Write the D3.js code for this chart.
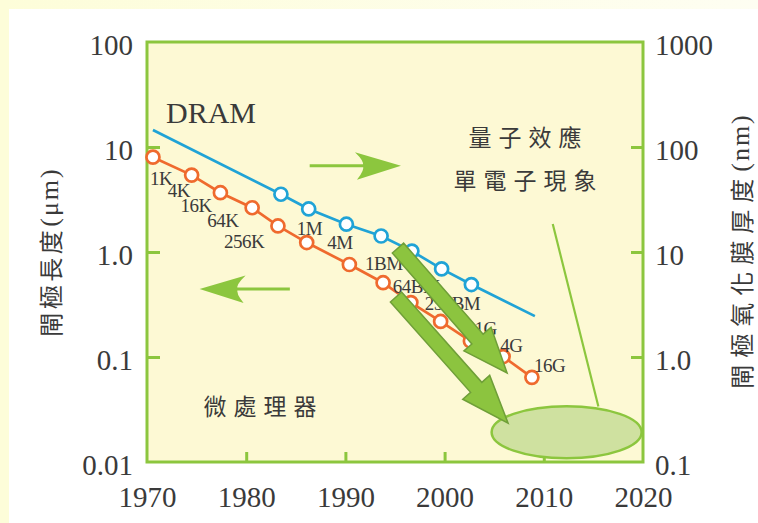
<!DOCTYPE html>
<html>
<head>
<meta charset="utf-8">
<script src="https://cdn.jsdelivr.net/npm/d3@7"></script>
<style>
  html, body { margin: 0; padding: 0; background: #ffffff; }
  svg { display: block; }
</style>
</head>
<body>
<svg id="chart" width="758" height="523"></svg>
<script>
// Gate length of successive DRAM generations (left axis, µm)
const dramYears  = [1970.6, 1974.5, 1977.4, 1980.6, 1983.2, 1986.1, 1990.4, 1993.8, 1996.6, 1999.6, 2002.6, 2005.9, 2008.8];
const dramLength = [8.0, 5.4, 3.67, 2.64, 1.77, 1.23, 0.76, 0.51, 0.33, 0.218, 0.142, 0.101, 0.064];
const dramLabels = ["1K", "4K", "16K", "64K", "256K", "1M", "4M", "1BM", "64BM", "256BM", "1G", "4G", "16G"];

// Gate oxide thickness trend (right axis, nm); only measured points get a marker
const oxideYears  = [1970.6, 1983.5, 1986.3, 1990.1, 1993.6, 1996.7, 1999.7, 2002.7, 2009.1];
const oxideNm     = [145, 35.5, 25.7, 18.4, 14.2, 10.2, 6.9, 4.9, 2.45];
const oxideMarked = [false, true, true, true, true, true, true, true, false];

// Axis ticks
const yearTicks  = [1970, 1980, 1990, 2000, 2010, 2020];
const leftTicks  = [100, 10, 1, 0.1, 0.01];
const leftText   = ["100", "10", "1.0", "0.1", "0.01"];
const rightTicks = [1000, 100, 10, 1, 0.1];
const rightText  = ["1000", "100", "10", "1.0", "0.1"];

// Layout
const plot = { left: 147, right: 643, top: 42, bottom: 462 };
const GREEN = "#8cc63e", ORANGE = "#ef6a2e", BLUE = "#20a3d6", INK = "#3a3a3a";
const SERIF = "'Liberation Serif', 'Times New Roman', serif";
const CJK = "'Noto Sans CJK TC', 'Noto Sans CJK SC', sans-serif";

// Label placement for each DRAM point: [dx of text start, dy of baseline]
const labelOffsets = [[-3, 28], [-24, 22], [-40, 19], [-45, 19], [-54, 22], [-10, -8], [-22, -16],
                      [-18, -13], [-18, -10], [-16, -11], [4, -6], [-3, -5], [2, -5]];

const svg = d3.select("#chart");

const x = d3.scaleLinear().domain([1970, 2020]).range([plot.left, plot.right]);
const yL = d3.scaleLog().domain([0.01, 100]).range([plot.bottom, plot.top]);
const yR = d3.scaleLog().domain([0.1, 1000]).range([plot.bottom, plot.top]);

// Page background: pale strips on the top and left edge
const grad = svg.append("defs").append("linearGradient").attr("id", "strip");
grad.append("stop").attr("offset", "0%").attr("stop-color", "#fdfdd9");
grad.append("stop").attr("offset", "100%").attr("stop-color", "#fefef2");
svg.append("rect").attr("x", 0).attr("y", 0).attr("width", 758).attr("height", 9).attr("fill", "url(#strip)");
svg.append("rect").attr("x", 0).attr("y", 0).attr("width", 9).attr("height", 523).attr("fill", "#fdfdd9");

// Plot panel
svg.append("rect")
  .attr("x", plot.left).attr("y", plot.top)
  .attr("width", plot.right - plot.left).attr("height", plot.bottom - plot.top)
  .attr("fill", "#fdf9d4");

// Axes with inward ticks
function styleAxis(g, fontSize) {
  g.select(".domain").remove();
  g.selectAll(".tick line").attr("stroke", GREEN).attr("stroke-width", 3);
  g.selectAll(".tick text")
    .attr("fill", INK).style("font-family", SERIF).style("font-size", fontSize + "px");
}
const gx = svg.append("g").attr("transform", `translate(0,${plot.bottom})`)
  .call(d3.axisBottom(x).tickValues(yearTicks).tickFormat(d3.format("d")).tickSize(-10).tickPadding(24));
styleAxis(gx, 29);
gx.selectAll(".tick line").filter(d => d === 1970 || d === 2020).remove();

const gl = svg.append("g").attr("transform", `translate(${plot.left},0)`)
  .call(d3.axisLeft(yL).tickValues(leftTicks).tickFormat((d, i) => leftText[i]).tickSize(-13).tickPadding(14));
styleAxis(gl, 29);
gl.selectAll(".tick text").attr("dy", "0.42em");
gl.selectAll(".tick line").filter(d => d === 100 || d === 0.01).remove();

const gr = svg.append("g").attr("transform", `translate(${plot.right},0)`)
  .call(d3.axisRight(yR).tickValues(rightTicks).tickFormat((d, i) => rightText[i]).tickSize(-12).tickPadding(12));
styleAxis(gr, 29);
gr.selectAll(".tick text").attr("dy", "0.42em");
gr.selectAll(".tick line").filter(d => d === 1000 || d === 0.1).remove();

// Frame
svg.append("rect")
  .attr("x", plot.left).attr("y", plot.top)
  .attr("width", plot.right - plot.left).attr("height", plot.bottom - plot.top)
  .attr("fill", "none").attr("stroke", GREEN).attr("stroke-width", 3);

// Axis titles (rotated)
function verticalTitle(cx, cy, cjk, unit, cjkSpacing) {
  const t = svg.append("text")
    .attr("transform", `translate(${cx},${cy}) rotate(-90)`)
    .attr("text-anchor", "middle").attr("dominant-baseline", "central")
    .attr("fill", INK);
  t.append("tspan").text(cjk).style("font-family", CJK).style("font-size", "24px")
    .style("letter-spacing", cjkSpacing + "px");
  t.append("tspan").text(unit).style("font-family", SERIF).style("font-size", "26px")
    .style("letter-spacing", "2px");
}
verticalTitle(49, 252, "閘極長度", "(μm)", 3.5);
verticalTitle(740, 251, "閘極氧化膜厚度", "(nm)", 7);

// Oxide thickness trend line
const oxidePts = oxideYears.map((yr, i) => ({ year: yr, v: oxideNm[i], marked: oxideMarked[i] }));
svg.append("path").datum(oxidePts)
  .attr("fill", "none").attr("stroke", BLUE).attr("stroke-width", 2.7)
  .attr("d", d3.line().x(d => x(d.year)).y(d => yR(d.v)));

// DRAM gate length line
const dramPts = dramYears.map((yr, i) => ({ year: yr, v: dramLength[i], label: dramLabels[i], off: labelOffsets[i] }));
svg.append("path").datum(dramPts)
  .attr("fill", "none").attr("stroke", ORANGE).attr("stroke-width", 2.7)
  .attr("d", d3.line().x(d => x(d.year)).y(d => yL(d.v)));

// Markers
svg.append("g").selectAll("circle").data(oxidePts.filter(d => d.marked)).join("circle")
  .attr("cx", d => x(d.year)).attr("cy", d => yR(d.v)).attr("r", 6.5)
  .attr("fill", "#ffffff").attr("stroke", BLUE).attr("stroke-width", 2.7);
svg.append("g").selectAll("circle").data(dramPts).join("circle")
  .attr("cx", d => x(d.year)).attr("cy", d => yL(d.v)).attr("r", 6.5)
  .attr("fill", "#ffffff").attr("stroke", ORANGE).attr("stroke-width", 2.7);

// Generation labels
svg.append("g").selectAll("text").data(dramPts).join("text")
  .attr("x", d => x(d.year) + d.off[0]).attr("y", d => yL(d.v) + d.off[1])
  .attr("fill", INK).style("font-family", SERIF).style("font-size", "19px")
  .style("letter-spacing", "-0.5px")
  .text(d => d.label);

// Series name
svg.append("text").attr("x", 166).attr("y", 123)
  .attr("fill", INK).style("font-family", SERIF).style("font-size", "30px").text("DRAM");

// CJK annotations
function cjkText(cx, baseline, str, spacing) {
  svg.append("text").attr("x", cx + spacing / 2).attr("y", baseline)
    .attr("text-anchor", "middle").attr("fill", INK)
    .style("font-family", CJK).style("font-size", "23px").style("letter-spacing", spacing + "px")
    .text(str);
}
cjkText(525, 146, "量子效應", 7);
cjkText(525, 189, "單電子現象", 7);
cjkText(260, 415, "微處理器", 7);

// Thin horizontal arrows pointing to each axis
function lineArrow(tailYear, tipYear, um, dir) {
  const ty = yL(um), tipX = x(tipYear), tailX = x(tailYear);
  const s = dir; // +1 points right, -1 points left
  svg.append("line")
    .attr("x1", tailX).attr("y1", ty).attr("x2", tipX - s * 36).attr("y2", ty)
    .attr("stroke", GREEN).attr("stroke-width", 3);
  const head = d3.path();
  head.moveTo(tipX, ty);
  head.lineTo(tipX - s * 46, ty - 13.5);
  head.quadraticCurveTo(tipX - s * 36, ty - 4, tipX - s * 38, ty);
  head.quadraticCurveTo(tipX - s * 36, ty + 4, tipX - s * 44, ty + 14);
  head.closePath();
  svg.append("path").attr("d", head.toString()).attr("fill", GREEN);
}
lineArrow(1986.4, 1995.6, 6.64, 1);
lineArrow(1984.4, 1975.3, 0.445, -1);

// Pointer from the annotation text to the highlight ellipse
svg.append("line")
  .attr("x1", x(2010.9)).attr("y1", yL(1.85)).attr("x2", x(2015.5)).attr("y2", yL(0.0337))
  .attr("stroke", GREEN).attr("stroke-width", 2.2);

// Highlight ellipse
svg.append("ellipse")
  .attr("cx", x(2012.3)).attr("cy", yL(0.0192)).attr("rx", 75).attr("ry", 26)
  .attr("fill", "#cfe1a0").attr("stroke", GREEN).attr("stroke-width", 2.5);

// Thick block arrows showing the scaling trend
function blockArrow(b, t, shaftW, headW, headLen) {
  const bx = x(b[0]), by = yL(b[1]), tx = x(t[0]), ty = yL(t[1]);
  const len = Math.hypot(tx - bx, ty - by);
  const ux = (tx - bx) / len, uy = (ty - by) / len;
  const nx = -uy, ny = ux;
  const hx = tx - ux * headLen, hy = ty - uy * headLen;
  const pts = [
    [bx + nx * shaftW / 2, by + ny * shaftW / 2],
    [hx + nx * shaftW / 2, hy + ny * shaftW / 2],
    [hx + nx * headW / 2, hy + ny * headW / 2],
    [tx, ty],
    [hx - nx * headW / 2, hy - ny * headW / 2],
    [hx - nx * shaftW / 2, hy - ny * shaftW / 2],
    [bx - nx * shaftW / 2, by - ny * shaftW / 2]
  ];
  svg.append("path")
    .attr("d", d3.line()(pts) + "Z")
    .attr("fill", "#8cc43f").attr("stroke", "#6f9f38").attr("stroke-width", 1.5)
    .attr("stroke-linejoin", "miter");
}
blockArrow([1995.3, 1.09], [2006.3, 0.0705], 15, 36, 45);
blockArrow([1995.1, 0.373], [2006.4, 0.0234], 15, 36, 48);
</script>
</body>
</html>
